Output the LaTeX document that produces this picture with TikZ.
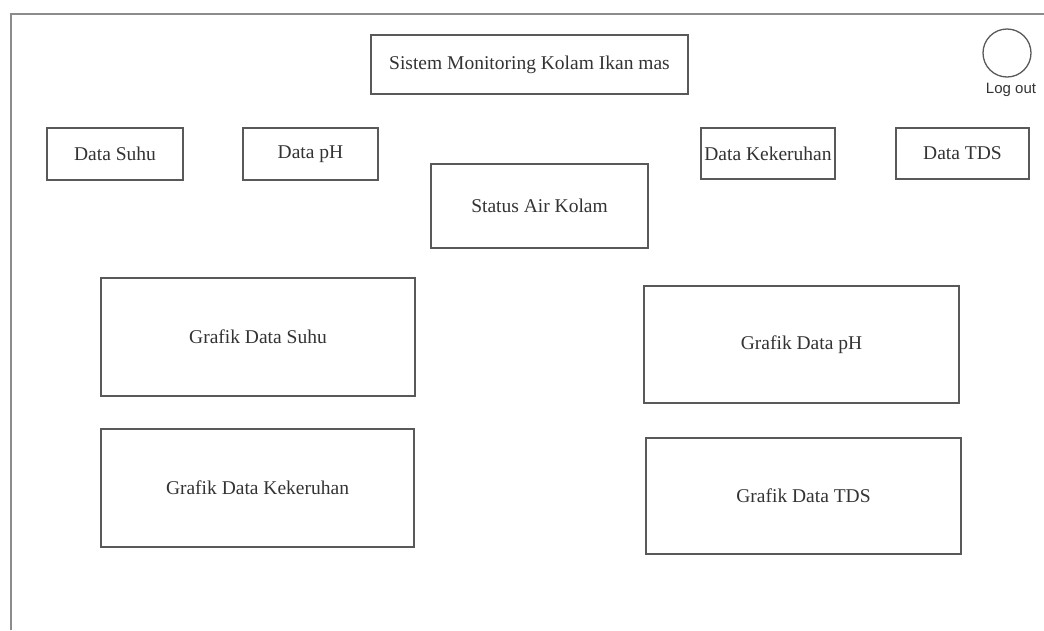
\documentclass[tikz,border=0pt]{standalone}
\usepackage{fontspec}
\setmainfont{Liberation Serif}
\newfontfamily\labelsans{Liberation Sans}
\begin{document}
\begin{tikzpicture}[x=1pt,y=-1pt,
  frameline/.style={draw=black!45,line width=2pt},
  box/.style={draw=black!65,line width=1.5pt,rectangle,inner sep=0pt,
    text=black!80,font=\fontsize{19.5}{22}\selectfont},
  logoutcircle/.style={draw=black!65,line width=1.3pt,circle,inner sep=0pt,minimum size=48pt},
  caption/.style={text=black!80,font=\labelsans\fontsize{15}{17}\selectfont,inner sep=0pt}]
  \useasboundingbox (0,0) rectangle (1044,630);

  % page frame
  \coordinate (ftr) at (1044,14);
  \coordinate (ftl) at (11,14);
  \coordinate (fbl) at (11,630);
  \draw[frameline] (ftr) -- (ftl) -- (fbl);

  % header
  \node[box,minimum width=317pt,minimum height=59pt] (title) at (529.5,64.5) {Sistem Monitoring Kolam Ikan mas};
  \node[logoutcircle] (logout) at (1007,53) {};
  \node[caption] (logoutlabel) at (1011,90) {Log out};

  % sensor readings
  \node[box,minimum width=136pt,minimum height=52pt] (suhu) at (115,154) {Data Suhu};
  \node[box,minimum width=135pt,minimum height=52pt] (ph) at (310.5,154) {Data pH};
  \node[box,minimum width=134pt,minimum height=51pt] (keruh) at (768,153.5) {Data Kekeruhan};
  \node[box,minimum width=133pt,minimum height=51pt] (tds) at (962.5,153.5) {Data TDS};
  \node[box,minimum width=217pt,minimum height=84pt] (status) at (539.5,206) {Status Air Kolam};

  % charts
  \node[box,minimum width=314pt,minimum height=118pt] (gsuhu) at (258,337) {Grafik Data Suhu};
  \node[box,minimum width=315pt,minimum height=117pt] (gph) at (801.5,344.5) {Grafik Data pH};
  \node[box,minimum width=313pt,minimum height=118pt] (gkeruh) at (257.5,488) {Grafik Data Kekeruhan};
  \node[box,minimum width=315pt,minimum height=116pt] (gtds) at (803.5,496) {Grafik Data TDS};
\end{tikzpicture}
\end{document}
